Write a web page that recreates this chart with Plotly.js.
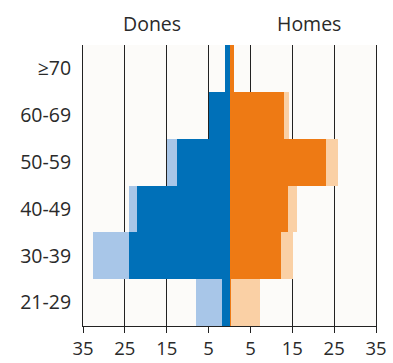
<!DOCTYPE html>
<html>
<head>
<meta charset="utf-8">
<script src="https://cdn.plot.ly/plotly-3.0.1.min.js"></script>
<style>html,body{margin:0;padding:0;background:#fff;}#chart{width:393px;height:363px;}</style>
</head>
<body>
<div id="chart"></div>
<script>
// Age groups, bottom to top
const ageGroups = ["21-29", "30-39", "40-49", "50-59", "60-69", "≥70"];
// Dones (women) – inner dark segment and outer light segment
const donesDark  = [1.7, 24.0, 22.0, 12.5, 4.8, 1.0];
const donesLight = [6.2, 8.6, 2.0, 2.4, 0, 0];
// Homes (men) – inner dark segment and outer light segment
const homesDark  = [0.3, 12.2, 13.9, 23.1, 13.1, 1.0];
const homesLight = [6.9, 3.0, 2.3, 2.9, 1.0, 0];
// Axis ticks
const tickVals = [-35, -25, -15, -5, 5, 15, 25, 35];
const tickText = ["35", "25", "15", "5", "5", "15", "25", "35"];
const sideLabels = ["Dones", "Homes"];

const neg = a => a.map(v => -v);
function bar(vals, color, name) {
  return {type: "bar", orientation: "h", y: ageGroups, x: vals, name: name,
          marker: {color: color, line: {width: 0}}, hoverinfo: "skip"};
}
const data = [
  bar(neg(donesDark), "#0070B8", "Dones"),
  bar(neg(donesLight), "#A8C6E8", "Dones"),
  bar(homesDark, "#EE7A14", "Homes"),
  bar(homesLight, "#FAD0A5", "Homes")
];
const font = {family: "Open Sans, sans-serif", size: 19.5, color: "#2a2a2a"};
const xfont = {family: "Open Sans, sans-serif", size: 18.5, color: "#2a2a2a"};
const layout = {
  width: 393, height: 363,
  margin: {l: 83, r: 17, t: 45, b: 37},
  barmode: "relative", bargap: 0,
  showlegend: false,
  paper_bgcolor: "#ffffff", plot_bgcolor: "#FCFBF9",
  font: font,
  xaxis: {range: [-35, 35], tickvals: tickVals, ticktext: tickText,
          showgrid: true, gridcolor: "#222", gridwidth: 1, zeroline: false,
          showline: true, linecolor: "#222", linewidth: 1,
          ticks: "outside", ticklen: 6, tickcolor: "#222", tickfont: xfont},
  yaxis: {type: "category", categoryorder: "array", categoryarray: ageGroups,
          showgrid: false, zeroline: false, showline: true, mirror: true,
          linecolor: "#222", linewidth: 1, ticks: "", ticklabelstandoff: 7, tickfont: font},
  annotations: [
    {text: sideLabels[0], xref: "paper", yref: "paper", x: 0.235, y: 1, yshift: 22,
     showarrow: false, font: font, xanchor: "center", yanchor: "middle"},
    {text: sideLabels[1], xref: "paper", yref: "paper", x: 0.77, y: 1, yshift: 22,
     showarrow: false, font: font, xanchor: "center", yanchor: "middle"}
  ]
};
Plotly.newPlot("chart", data, layout, {staticPlot: true});
</script>
</body>
</html>
